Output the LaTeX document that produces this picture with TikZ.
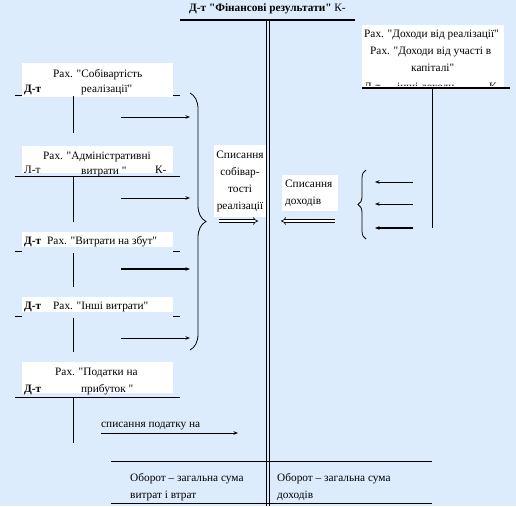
\documentclass[tikz,border=0pt]{standalone}
\usepackage{fontspec}
\setmainfont{Liberation Serif}[Ligatures=TeXOff]
\usetikzlibrary{arrows.meta,decorations.pathreplacing}
\definecolor{bgblue}{RGB}{221,236,252}
\tikzset{
  txt/.style={anchor=base west,inner sep=0pt,font=\fontsize{11.3}{13}\selectfont},
  txtc/.style={anchor=base,inner sep=0pt,font=\fontsize{11.3}{13}\selectfont},
  btxt/.style={txt,font=\fontsize{11.3}{13}\selectfont\bfseries},
  wbox/.style={fill=white,draw=none},
  tline/.style={line width=0.9pt},
  vline/.style={line width=0.8pt},
  arr/.style={line width=0.7pt,-{Stealth[length=4.5pt,width=3.5pt]}},
  thickarr/.style={line width=1.2pt,-{Stealth[length=4.5pt,width=3.5pt]}},
  dblarr/.style={double,double distance=2pt,line width=0.6pt,-{Implies}},
  bigbrace/.style={decorate,decoration={brace,amplitude=#1},line width=0.8pt},
}
\begin{document}
\begin{tikzpicture}[x=1pt,y=-1pt]
\fill[bgblue] (0,0) rectangle (516,506);
\useasboundingbox (0,0) rectangle (516,506);

% title and main account
\node[btxt] (title) at (189,12) {Д-т "Фінансові результати" {\mdseries К-}};
\coordinate (tl) at (180,20); \coordinate (tr) at (355,20);
\draw[line width=1.3pt] (tl) -- (tr);
\coordinate (d1t) at (266,20); \coordinate (d1b) at (266,506);
\coordinate (d2t) at (269,20); \coordinate (d2b) at (269,506);
\draw[vline] (d1t) -- (d1b);
\draw[vline] (d2t) -- (d2b);

% account 1
\coordinate (a1l) at (15,95); \coordinate (a1r) at (180,95);
\draw[tline] (a1l) -- (a1r);
\fill[wbox] (22,63) rectangle (173,96.5);
\node[txt] (a1t1) at (53,77) {Рах. "Собівартість};
\node[btxt] (a1d) at (24,92) {Д-т};
\node[txt] (a1t2) at (81,92) {реалізації"};
\coordinate (a1vt) at (73,96); \coordinate (a1vb) at (73,133);
\draw[vline] (a1vt) -- (a1vb);
\coordinate (a1s) at (121,117); \coordinate (a1e) at (190,117);
\draw[arr] (a1s) -- (a1e);

% account 2
\fill[wbox] (22,146) rectangle (173,173);
\coordinate (a2l) at (15,176); \coordinate (a2r) at (180,176);
\draw[tline] (a2l) -- (a2r);
\node[txt] (a2t1) at (43,159) {Рах. "Адміністративні};
\node[txt] (a2d) at (24,173.5) {Л-т};
\node[txt] (a2t2) at (81,174) {витрати "};
\node[txt] (a2k) at (155,173.5) {К-};
\coordinate (a2vt) at (73,176); \coordinate (a2vb) at (73,222);
\draw[vline] (a2vt) -- (a2vb);
\coordinate (a2s) at (121,198); \coordinate (a2e) at (190,198);
\draw[arr] (a2s) -- (a2e);

% account 3
\fill[wbox] (22,232) rectangle (173,247);
\node[btxt] (a3d) at (24,244) {Д-т};
\node[txt] (a3t) at (47,244) {Рах. "Витрати на збут"};
\draw[tline] (15,251) -- (22,251);
\draw[tline] (173,251) -- (180,251);
\coordinate (a3vt) at (73,253); \coordinate (a3vb) at (73,287);
\draw[vline] (a3vt) -- (a3vb);
\coordinate (a3s) at (121,269); \coordinate (a3e) at (190,269);
\draw[thickarr] (a3s) -- (a3e);

% account 4
\fill[wbox] (22,297) rectangle (173,312);
\node[btxt] (a4d) at (24,309) {Д-т};
\node[txt] (a4t) at (53,309) {Рах. "Інші витрати"};
\draw[tline] (15,316) -- (22,316);
\draw[tline] (173,316) -- (180,316);
\coordinate (a4vt) at (73,318); \coordinate (a4vb) at (73,352);
\draw[vline] (a4vt) -- (a4vb);
\coordinate (a4s) at (121,338); \coordinate (a4e) at (190,338);
\draw[arr] (a4s) -- (a4e);

% account 5
\fill[wbox] (22,362) rectangle (173,393);
\node[txt] (a5t1) at (55,375) {Рах. "Податки на};
\node[btxt] (a5d) at (24,392) {Д-т};
\node[txt] (a5t2) at (81,392) {прибуток "};
\coordinate (a5l) at (15,397); \coordinate (a5r) at (180,397);
\draw[tline] (a5l) -- (a5r);
\coordinate (a5vt) at (73,397); \coordinate (a5vb) at (73,443);
\draw[vline] (a5vt) -- (a5vb);
\node[txt] (tax) at (101,427) {списання податку на};
\coordinate (a5s) at (101,433); \coordinate (a5e) at (238,433);
\draw[arr] (a5s) -- (a5e);

% left brace
\coordinate (lbt) at (190,93); \coordinate (lbb) at (190,350);
\draw[bigbrace=16pt] (lbt) -- (lbb);

% middle texts
\fill[wbox] (214,145) rectangle (266,217);
\node[txtc] (m1) at (240,158) {Списання};
\node[txtc] (m2) at (240,175) {собівар-};
\node[txtc] (m3) at (240,192) {тості};
\node[txtc] (m4) at (240,209) {реалізації};
\coordinate (m5s) at (219,221); \coordinate (m5e) at (258,221);
\draw[dblarr] (m5s) -- (m5e);

\fill[wbox] (282,175) rectangle (338,211);
\node[txt] (n1) at (285,187) {Списання};
\node[txt] (n2) at (285,204) {доходів};
\coordinate (n3s) at (335,221); \coordinate (n3e) at (281,221);
\draw[dblarr] (n3s) -- (n3e);

% right account
\fill[wbox] (362,25) rectangle (504,88);
\node[txt] (r1) at (364,37) {Рах. "Доходи від реалізації"};
\node[txt] (r2) at (370,54) {Рах. "Доходи від участі в};
\node[txt] (r3) at (411,71) {капіталі"};
\begin{scope}
\clip (360,76) rectangle (510,85);
\node[txt] (r4a) at (364,90) {Д-т};
\node[txt] (r4b) at (397,90) {інші доходи};
\node[txt] (r4c) at (489,90) {К-};
\end{scope}
\coordinate (rl) at (362,88); \coordinate (rr) at (510,88);
\draw[line width=1.3pt] (rl) -- (rr);
\coordinate (rvt) at (432,88); \coordinate (rvb) at (432,228);
\draw[vline] (rvt) -- (rvb);
\coordinate (r1s) at (413,182); \coordinate (r1e) at (375,182);
\coordinate (r2s) at (413,204); \coordinate (r2e) at (375,204);
\coordinate (r3s) at (413,228); \coordinate (r3e) at (375,228);
\draw[arr] (r1s) -- (r1e);
\draw[arr] (r2s) -- (r2e);
\draw[thickarr] (r3s) -- (r3e);
\coordinate (rbb) at (366,239); \coordinate (rbt) at (366,170);
\draw[bigbrace=8pt] (rbb) -- (rbt);

% bottom turnover
\coordinate (bl1) at (111,461); \coordinate (br1) at (432,461);
\coordinate (bl2) at (111,503); \coordinate (br2) at (432,503);
\draw[vline] (bl1) -- (br1);
\draw[vline] (bl2) -- (br2);
\node[txt] (o1) at (130,481) {Оборот – загальна сума};
\node[txt] (o2) at (130,498) {витрат і втрат};
\node[txt] (o3) at (277,481) {Оборот – загальна сума};
\node[txt] (o4) at (277,498) {доходів};
\end{tikzpicture}
\end{document}
